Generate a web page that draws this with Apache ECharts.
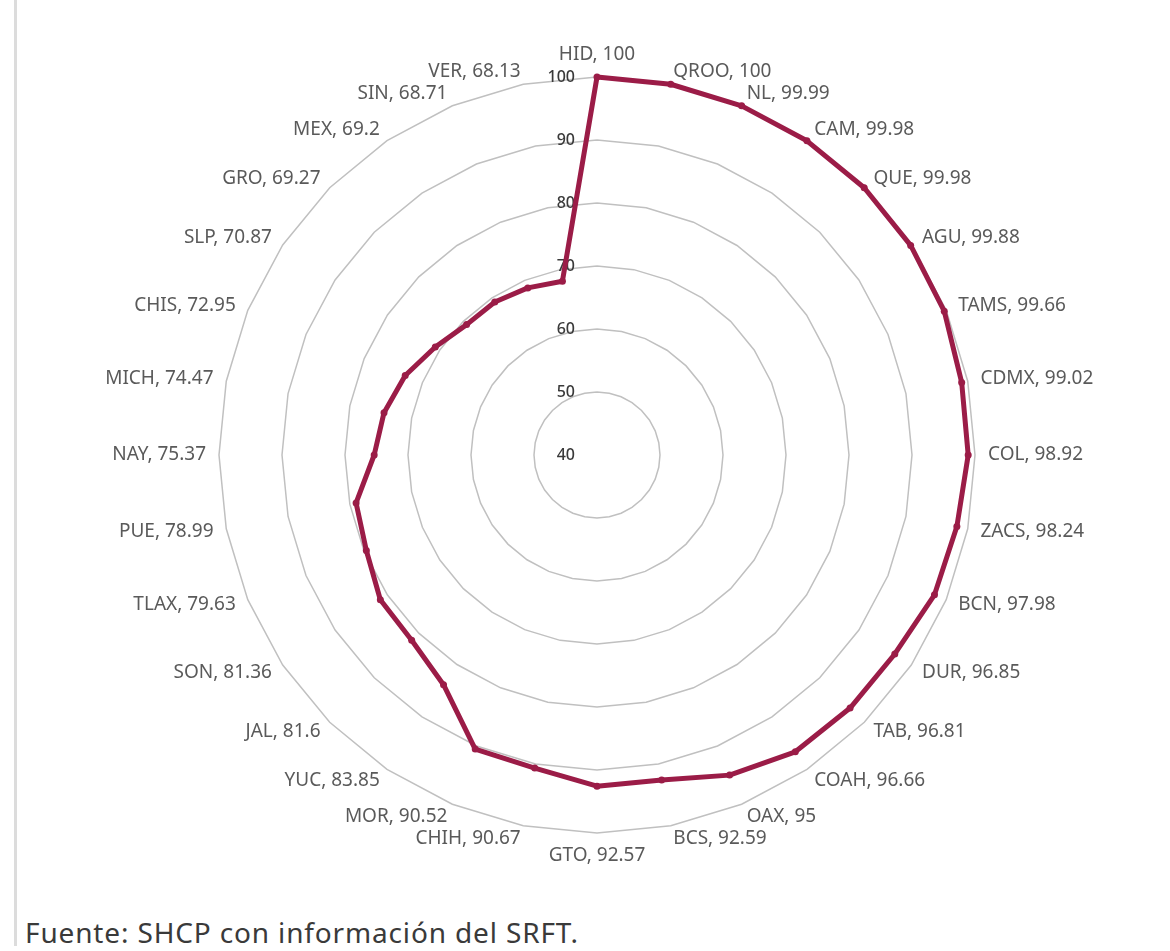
<!DOCTYPE html>
<html>
<head>
<meta charset="utf-8">
<script src="https://cdn.jsdelivr.net/npm/echarts@6/dist/echarts.min.js"></script>
<style>
  html, body { margin: 0; padding: 0; background: #fff; }
  .wrap { position: relative; width: 1170px; height: 951px; }
  .leftBar { position: absolute; left: 14px; top: 0; width: 3px; height: 946px; background: #dcdcdc; }
  #chart { position: absolute; left: 0; top: 0; width: 1170px; height: 900px; }
  .fuente { position: absolute; left: 25px; top: 918px; line-height: 1; font-family: "Noto Sans", sans-serif; font-size: 28px; letter-spacing: 0.85px; color: #3a3a3a; white-space: nowrap; }
</style>
</head>
<body>
<div class="wrap">
  <div class="leftBar"></div>
  <div id="chart"></div>
  <div class="fuente">Fuente: SHCP con información del SRFT.</div>
</div>
<script>
// estados en orden horario desde arriba
var estados = ["HID", "QROO", "NL", "CAM", "QUE", "AGU", "TAMS", "CDMX", "COL", "ZACS", "BCN",
  "DUR", "TAB", "COAH", "OAX", "BCS", "GTO", "CHIH", "MOR", "YUC", "JAL", "SON", "TLAX", "PUE",
  "NAY", "MICH", "CHIS", "SLP", "GRO", "MEX", "SIN", "VER"];
var valores = [100, 100, 99.99, 99.98, 99.98, 99.88, 99.66, 99.02, 98.92, 98.24, 97.98,
  96.85, 96.81, 96.66, 95, 92.59, 92.57, 90.67, 90.52, 83.85, 81.6, 81.36, 79.63, 78.99,
  75.37, 74.47, 72.95, 70.87, 69.27, 69.2, 68.71, 68.13];
var escalaMin = 40;
var escalaMax = 100;

var myChart = echarts.init(document.getElementById("chart"));

// el radar de echarts avanza en sentido antihorario: se invierte el orden (menos el primero)
var orden = [0];
for (var k = estados.length - 1; k > 0; k--) {
  orden.push(k);
}

var indicadores = orden.map(function (i) {
  var ind = { name: estados[i] + ", " + valores[i], min: escalaMin, max: escalaMax };
  if (i === 0) {
    ind.axisLabel = { show: true };
  }
  return ind;
});
var valoresRadar = orden.map(function (i) {
  return valores[i];
});

var option = {
  animation: false,
  radar: {
    center: [597, 455],
    radius: 378,
    startAngle: 90,
    splitNumber: 6,
    shape: "polygon",
    indicator: indicadores,
    axisName: {
      color: "#5a5a5a",
      fontSize: 19,
      fontFamily: "Noto Sans"
    },
    nameGap: 13,
    axisLine: { show: false },
    axisTick: { show: false },
    splitArea: { show: false },
    splitLine: {
      lineStyle: { color: "#c0c0c0", width: 1.5 }
    },
    axisLabel: {
      show: false,
      color: "#3a3a3a",
      fontSize: 16,
      fontWeight: 500,
      fontFamily: "Noto Sans",
      margin: 22
    }
  },
  series: [
    {
      type: "radar",
      symbol: "circle",
      symbolSize: 7,
      lineStyle: { color: "#9b1c47", width: 5 },
      itemStyle: { color: "#9b1c47" },
      data: [{ value: valoresRadar }]
    }
  ]
};
myChart.setOption(option);
</script>
</body>
</html>
